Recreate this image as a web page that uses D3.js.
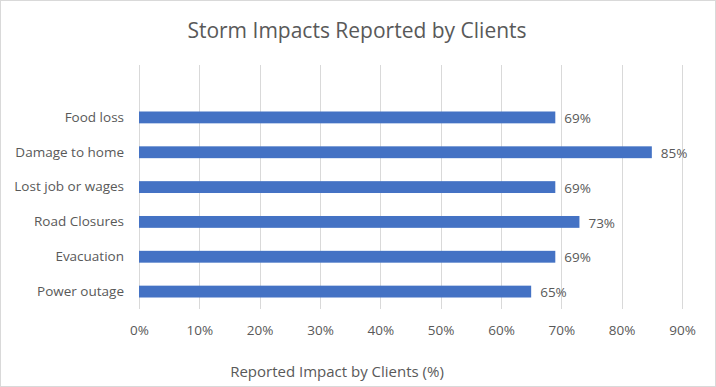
<!DOCTYPE html>
<html>
<head>
<meta charset="utf-8">
<script src="https://cdn.jsdelivr.net/npm/d3@7"></script>
<style>
  body { margin: 0; background: #fff; }
  svg { display: block; font-family: "Open Sans", sans-serif; }
</style>
</head>
<body>
<svg id="chart" width="716" height="387"></svg>
<script>
  // chart data, top to bottom as shown
  var categories = ['Food loss', 'Damage to home', 'Lost job or wages', 'Road Closures', 'Evacuation', 'Power outage'];
  var impactPct = [69, 85, 69, 73, 69, 65];
  var tickValues = [0, 10, 20, 30, 40, 50, 60, 70, 80, 90];

  var titleText = 'Storm Impacts Reported by Clients';
  var axisTitleText = 'Reported Impact by Clients (%)';

  var svg = d3.select('#chart');
  var textColor = '#595959';

  // outer border
  svg.append('rect')
    .attr('x', 0.5).attr('y', 0.5)
    .attr('width', 715).attr('height', 386)
    .attr('fill', '#fff')
    .attr('stroke', '#d9d9d9');

  var x = d3.scaleLinear().domain([0, 90]).range([139, 682]);
  var y = d3.scaleBand().domain(categories).range([100, 309]).paddingInner(0.66).paddingOuter(0.33);

  var gridTop = 65, gridBottom = 309;

  // gridlines
  svg.append('g').attr('class', 'grid')
    .selectAll('line')
    .data(tickValues)
    .enter().append('line')
    .attr('x1', function(d) { return Math.round(x(d)) + 0.5; })
    .attr('x2', function(d) { return Math.round(x(d)) + 0.5; })
    .attr('y1', gridTop)
    .attr('y2', gridBottom)
    .attr('stroke', '#d9d9d9')
    .attr('stroke-width', 1);

  // bars
  var data = categories.map(function(c, i) { return { cat: c, v: impactPct[i] }; });

  svg.append('g').attr('class', 'bars')
    .selectAll('rect')
    .data(data)
    .enter().append('rect')
    .attr('x', x(0))
    .attr('y', function(d) { return y(d.cat); })
    .attr('width', function(d) { return x(d.v) - x(0); })
    .attr('height', y.bandwidth())
    .attr('fill', '#4472c4');

  // value labels
  svg.append('g').attr('class', 'values')
    .selectAll('text')
    .data(data)
    .enter().append('text')
    .attr('x', function(d) { return x(d.v) + 9; })
    .attr('y', function(d) { return y(d.cat) + y.bandwidth() / 2 + 1; })
    .attr('dy', '0.35em')
    .attr('font-size', '13.5px')
    .attr('fill', textColor)
    .text(function(d) { return d.v + '%'; });

  // category axis labels
  var yAxis = d3.axisLeft(y).tickSize(0).tickPadding(0);
  var yg = svg.append('g')
    .attr('transform', 'translate(124,0)')
    .call(yAxis);
  yg.select('.domain').remove();
  yg.selectAll('text')
    .attr('font-size', '13.5px')
    .attr('font-family', '"Open Sans", sans-serif')
    .attr('fill', textColor);

  // value axis
  var xAxis = d3.axisBottom(x)
    .tickValues(tickValues)
    .tickSize(0)
    .tickPadding(0)
    .tickFormat(function(d) { return d + '%'; });
  var xg = svg.append('g')
    .attr('transform', 'translate(0,325)')
    .call(xAxis);
  xg.select('.domain').remove();
  xg.selectAll('text')
    .attr('font-size', '13.5px')
    .attr('font-family', '"Open Sans", sans-serif')
    .attr('fill', textColor);

  // titles
  svg.append('text')
    .attr('x', 357)
    .attr('y', 38)
    .attr('text-anchor', 'middle')
    .attr('font-size', '21px')
    .attr('fill', textColor)
    .text(titleText);

  svg.append('text')
    .attr('x', 337)
    .attr('y', 377)
    .attr('text-anchor', 'middle')
    .attr('font-size', '15px')
    .attr('fill', textColor)
    .text(axisTitleText);
</script>
</body>
</html>
